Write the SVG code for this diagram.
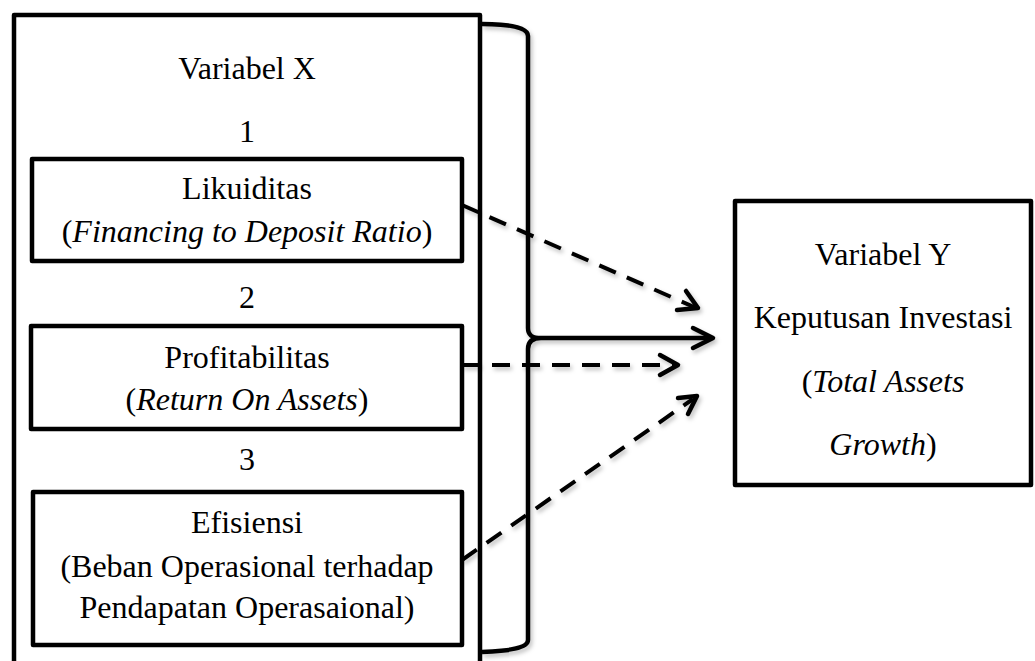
<svg xmlns="http://www.w3.org/2000/svg" width="1035" height="661" viewBox="0 0 1035 661">
<defs>
<style>
.box{fill:#fff;stroke:#000;stroke-width:4.5;stroke-linejoin:round}
.t{font-family:"Liberation Serif","Times New Roman",serif;font-size:32px;fill:#000;text-anchor:middle}
.i{font-style:italic}
.dash{fill:none;stroke:#000;stroke-width:4;stroke-dasharray:18 12}
.solid{fill:none;stroke:#000;stroke-width:4.5}
.head{fill:none;stroke:#000;stroke-width:4.5;stroke-linecap:round;stroke-linejoin:round}
</style>
<filter id="sh" x="-10%" y="-10%" width="130%" height="130%">
<feDropShadow dx="2" dy="3" stdDeviation="2" flood-color="#000" flood-opacity="0.25"/>
</filter>
</defs>
<rect width="1035" height="661" fill="#fff"/>

<g id="outer-x">
<rect class="box" x="14" y="15" width="466" height="660"/>
<text class="t" x="247" y="79">Variabel X</text>
<text class="t" x="247" y="142">1</text>
<text class="t" x="247" y="308">2</text>
<text class="t" x="247" y="470">3</text>
</g>

<g id="likuiditas">
<rect class="box" x="32" y="159" width="430" height="102"/>
<text class="t" x="247" y="199">Likuiditas</text>
<text class="t" x="247" y="242">(<tspan class="i">Financing to Deposit Ratio</tspan>)</text>
</g>

<g id="profitabilitas">
<rect class="box" x="31" y="326" width="431" height="103"/>
<text class="t" x="247" y="368">Profitabilitas</text>
<text class="t" x="247" y="410">(<tspan class="i">Return On Assets</tspan>)</text>
</g>

<g id="efisiensi">
<rect class="box" x="33" y="492" width="429" height="153"/>
<text class="t" x="247" y="533">Efisiensi</text>
<text class="t" x="247" y="577">(Beban Operasional terhadap</text>
<text class="t" x="247" y="618">Pendapatan Operasaional)</text>
</g>

<g id="variabel-y">
<rect class="box" x="735" y="201" width="296" height="284"/>
<text class="t" x="883" y="265">Variabel Y</text>
<text class="t" x="883" y="328">Keputusan Investasi</text>
<text class="t" x="883" y="392">(<tspan class="i">Total Assets</tspan></text>
<text class="t" x="883" y="455"><tspan class="i">Growth</tspan>)</text>
</g>

<g id="connectors" filter="url(#sh)">
<path class="solid" d="M482,24 C508,24 528,27 528,36 L528,328 C528,336 533,338 541,338 C533,338 528,341 528,349 L528,640 C528,648 508,651 482,652"/>
<path class="solid" d="M541,338 L711,338"/>
<path class="head" d="M693,328 L713,338 L693,348"/>
<path class="dash" d="M462,205 L694,307"/>
<path class="head" d="M677,310 L698,308 L686,291"/>
<path class="dash" d="M462,365 L674,365"/>
<path class="head" d="M660,355 L678,365 L660,375"/>
<path class="dash" d="M462,560 L693,399"/>
<path class="head" d="M678,398 L697,396 L688,414"/>
</g>
</svg>
